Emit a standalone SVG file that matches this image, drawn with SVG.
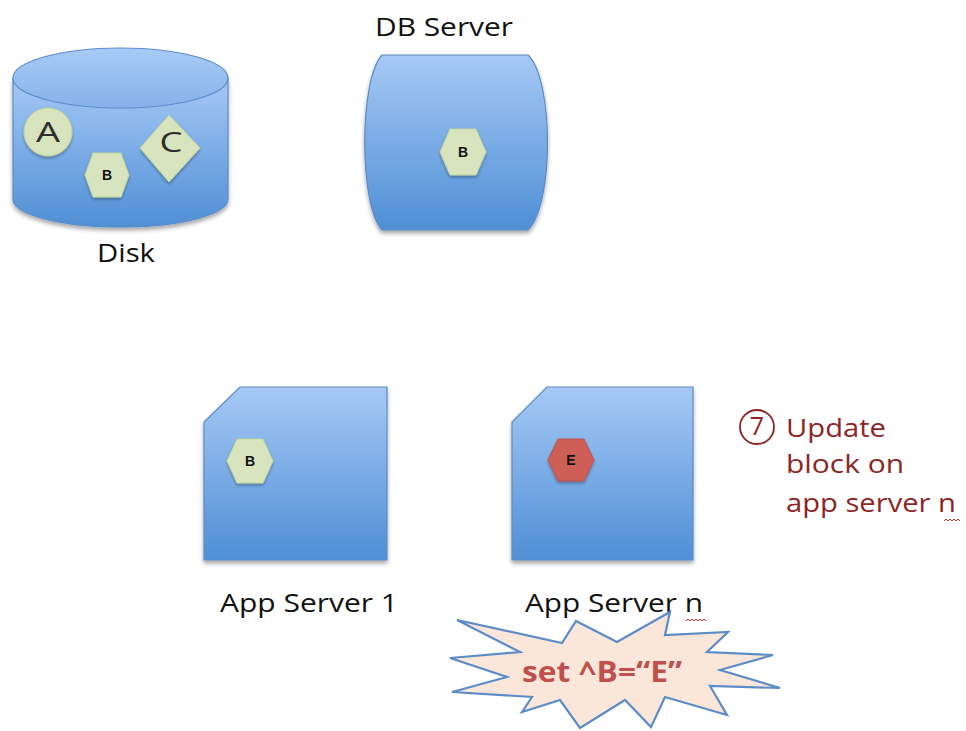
<svg xmlns="http://www.w3.org/2000/svg" width="966" height="731" viewBox="0 0 966 731">
<defs>
  <linearGradient id="blue" x1="0" y1="0" x2="0" y2="1">
    <stop offset="0" stop-color="#a6c9f5"/>
    <stop offset="1" stop-color="#4f8fd6"/>
  </linearGradient>
  <linearGradient id="blueTop" x1="0" y1="0" x2="0" y2="1">
    <stop offset="0" stop-color="#a8cbf6"/>
    <stop offset="1" stop-color="#86b2ea"/>
  </linearGradient>
  <filter id="shadow" x="-20%" y="-20%" width="140%" height="150%">
    <feGaussianBlur in="SourceAlpha" stdDeviation="2"/>
    <feOffset dx="0" dy="3" result="b"/>
    <feComponentTransfer><feFuncA type="linear" slope="0.35"/></feComponentTransfer>
    <feMerge><feMergeNode/><feMergeNode in="SourceGraphic"/></feMerge>
  </filter>
  <filter id="glow" x="-30%" y="-30%" width="160%" height="170%">
    <feGaussianBlur in="SourceAlpha" stdDeviation="1.5"/>
    <feOffset dx="0" dy="2" result="b"/>
    <feComponentTransfer><feFuncA type="linear" slope="0.3"/></feComponentTransfer>
    <feMerge><feMergeNode/><feMergeNode in="SourceGraphic"/></feMerge>
  </filter>
</defs>
<style>
  .box { fill: url(#blue); stroke: #5b8cc8; stroke-width: 1.2; filter: url(#shadow); }
  .item { fill: #d7e4bd; stroke: #c3d69b; stroke-width: 1; filter: url(#glow); }
  .itemRed { fill: #cd5f57; stroke: #c0504d; stroke-width: 1; filter: url(#glow); }
  .lbl { font-family: "Open Sans", "Liberation Sans", Arial, sans-serif; font-size: 25px; fill: #111; text-anchor: middle; }
  .big { font-family: "Open Sans", "Liberation Sans", Arial, sans-serif; font-size: 28px; fill: #2e2e2e; text-anchor: middle; }
  .small { font-family: "Liberation Sans", Arial, sans-serif; font-size: 14px; font-weight: bold; fill: #111; text-anchor: middle; }
  .note { font-family: "Open Sans", "Liberation Sans", Arial, sans-serif; font-size: 25px; fill: #8e2424; }
  .burst { fill: #fbe7da; stroke: #5b8cc8; stroke-width: 2.2; stroke-linejoin: miter; }
  .burstText { font-family: "Open Sans", "Liberation Sans", Arial, sans-serif; font-size: 28px; font-weight: bold; fill: #c0504d; text-anchor: middle; }
  .squiggle { fill: none; stroke: #e03030; stroke-width: 1; }
</style>

<g id="disk">
  <path class="box" d="M13,78 V199 A107.5,28 0 0 0 228,199 V78 Z"/>
  <ellipse cx="120.5" cy="78" rx="107.5" ry="30" fill="url(#blueTop)" stroke="#5b8cc8" stroke-width="1.2"/>
  <circle class="item" cx="48" cy="132" r="24"/>
  <text class="big" x="48" y="142" textLength="24" lengthAdjust="spacingAndGlyphs">A</text>
  <polygon class="item" points="85,175 93,153 121,153 129,175 121,197 93,197"/>
  <text class="small" x="107" y="180">B</text>
  <polygon class="item" points="140,148 169,115 200,148 169,182"/>
  <text class="big" x="171" y="152" textLength="23" lengthAdjust="spacingAndGlyphs">C</text>
  <text class="lbl" x="126" y="262" textLength="58" lengthAdjust="spacingAndGlyphs">Disk</text>
</g>

<g id="db-server">
  <text class="lbl" x="444" y="36" textLength="138" lengthAdjust="spacingAndGlyphs">DB Server</text>
  <path class="box" d="M382,55 H528 C554,80 554,205 528,230 H382 C359,205 359,80 382,55 Z"/>
  <polygon class="item" points="440,152 450,129 476,129 486,152 476,175 450,175"/>
  <text class="small" x="463" y="157">B</text>
</g>

<g id="app-server-1">
  <path class="box" d="M240,387 H387 V560 H204 V422 Z"/>
  <polygon class="item" points="227,461 237,439 263,439 273,461 263,483 237,483"/>
  <text class="small" x="250" y="466">B</text>
  <text class="lbl" x="309" y="612" textLength="178" lengthAdjust="spacingAndGlyphs">App Server 1</text>
</g>

<g id="app-server-n">
  <path class="box" d="M547,387 H693 V560 H512 V422 Z"/>
  <polygon class="itemRed" points="548,460 558,439 584,439 594,460 584,481 558,481"/>
  <text class="small" x="571" y="465">E</text>
  <text class="lbl" x="614" y="612" textLength="178" lengthAdjust="spacingAndGlyphs">App Server n</text>
  <path class="squiggle" d="M686,621 l2,-2 l2,2 l2,-2 l2,2 l2,-2 l2,2 l2,-2 l2,2 l2,-2 l2,2"/>
</g>

<g id="set-burst">
  <polygon class="burst" points="457,620 562,643 576,621 617,642 670,612 665,635 728,632 707,652 773,655 720,670 780,688 710,686 727,715 665,697 651,727 625,700 580,728 560,700 522,712 532,697 452,692 507,677 450,658 520,652"/>
  <text class="burstText" x="602" y="682" textLength="160" lengthAdjust="spacingAndGlyphs">set ^B=“E”</text>
</g>

<g id="step-7">
  <circle cx="757" cy="427" r="17" fill="none" stroke="#8e2424" stroke-width="1.8"/>
  <text class="note" x="757" y="435" text-anchor="middle" font-size="22">7</text>
  <text class="note" x="786" y="437" textLength="100" lengthAdjust="spacingAndGlyphs">Update</text>
  <text class="note" x="786" y="473" textLength="118" lengthAdjust="spacingAndGlyphs">block on</text>
  <text class="note" x="786" y="512" textLength="170" lengthAdjust="spacingAndGlyphs">app server n</text>
  <path class="squiggle" d="M944,521 l2,-2 l2,2 l2,-2 l2,2 l2,-2 l2,2 l2,-2 l2,2"/>
</g>

<g id="connectors"></g>
</svg>
